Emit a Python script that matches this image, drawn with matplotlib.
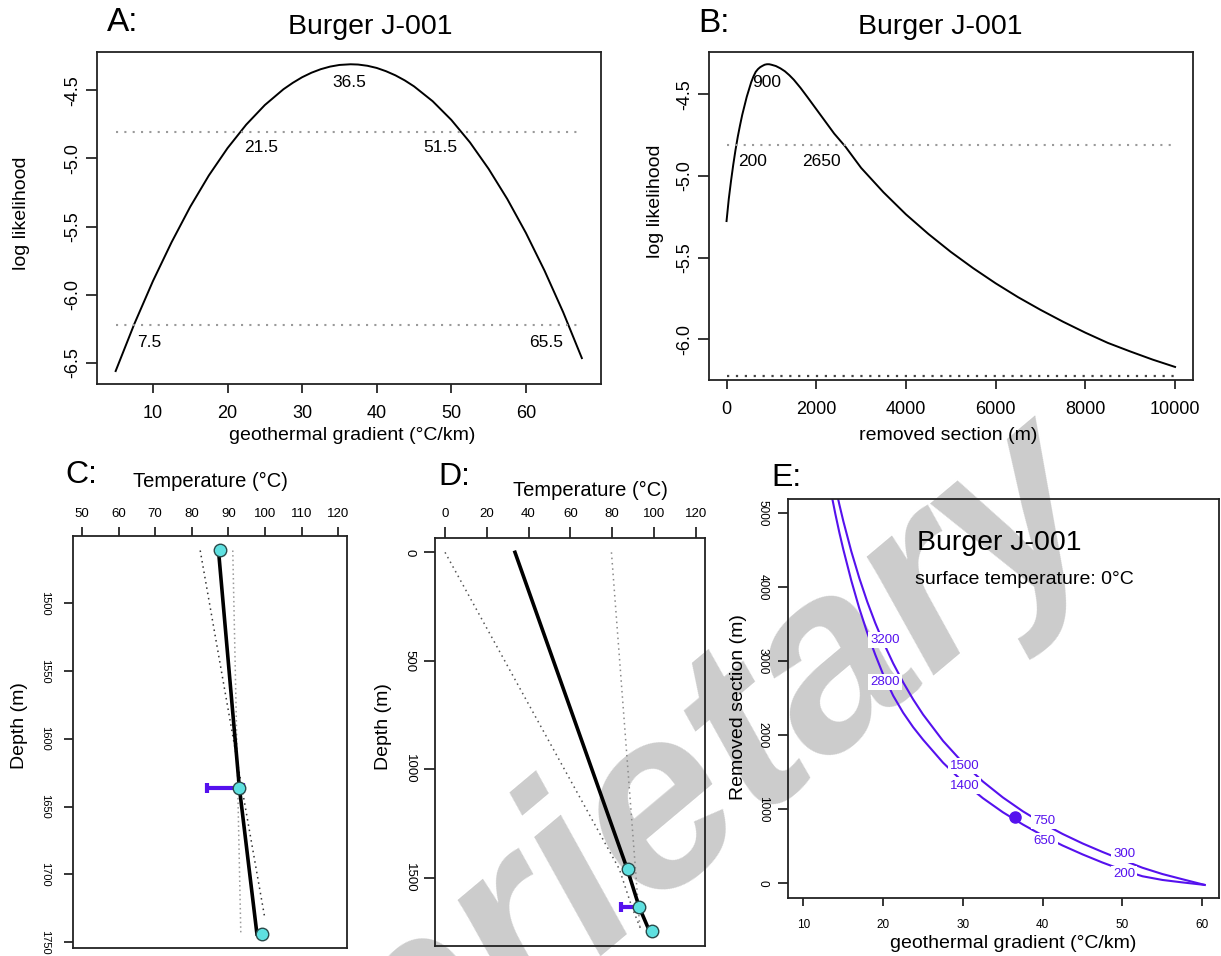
import matplotlib

matplotlib.use("Agg")
import matplotlib.pyplot as plt

plt.rcParams["font.family"] = ["Liberation Sans", "DejaVu Sans"]
plt.rcParams["axes.unicode_minus"] = False

W, H = 1221, 956
PURPLE = "#5511ee"
CYAN = "#5ee0e0"

# A: profile log likelihood over geothermal gradient
grad_a = [5, 7.5, 10, 12.5, 15, 17.5, 20, 22.5, 25, 27.5, 28.75, 30, 31.25, 32.5,
          33.75, 35, 36.5, 37.5, 38.75, 40, 41.25, 42.5, 43.75, 45, 47.5, 50, 52.5,
          55, 57.5, 60, 62.5, 65, 67.5]
loglik_a = [-6.56, -6.215, -5.90, -5.615, -5.355, -5.125, -4.925, -4.753, -4.609,
            -4.493, -4.446, -4.405, -4.372, -4.346, -4.327, -4.315, -4.310, -4.312,
            -4.321, -4.337, -4.361, -4.391, -4.428, -4.472, -4.581, -4.718, -4.883,
            -5.077, -5.298, -5.547, -5.824, -6.129, -6.465]
best_grad = 36.5
ci1_grad = [21.5, 51.5]
ci2_grad = [7.5, 65.5]

# B: profile log likelihood over removed section
removed_b = [0, 50, 100, 150, 200, 250, 300, 350, 400, 450, 500, 550, 600, 650, 700,
             750, 800, 850, 900, 950, 1000, 1100, 1200, 1300, 1400, 1500, 1650, 1800,
             2000, 2200, 2400, 2650, 3000, 3500, 4000, 4500, 5000, 5500, 6000, 6500,
             7000, 7500, 8000, 8500, 9000, 9500, 10000]
loglik_b = [-5.276, -5.14, -5.03, -4.93, -4.84, -4.76, -4.69, -4.625, -4.57, -4.515,
            -4.47, -4.425, -4.39, -4.362, -4.345, -4.333, -4.325, -4.318, -4.315,
            -4.315, -4.318, -4.326, -4.34, -4.358, -4.382, -4.41, -4.46, -4.515,
            -4.59, -4.665, -4.74, -4.82, -4.95, -5.10, -5.235, -5.355, -5.465, -5.565,
            -5.6575, -5.7425, -5.82, -5.8925, -5.96, -6.0225, -6.075, -6.125, -6.17]
best_removed = 900
ci1_removed = [200, 2650]

lvl_1s = -4.81
lvl_95 = -6.225

# C / D: temperature profile
obs_depth = [1461, 1636, 1744]
obs_temp = [87.8, 92.9, 99.3]
err_depth = 1636
err_temp = [84.1, 94.0]
model_depth = [0, 1461, 1636, 1744]
model_temp = [33.5, 87.3, 93.0, 97.8]
low_depth = [0, 1461, 1744]
low_temp = [79.7, 91.2, 93.4]
c_high_depth = [1461, 1733]
c_high_temp = [82.3, 100.0]
d_high_depth = [0, 1461, 1636, 1744]
d_high_temp = [0, 83.5, 89.5, 94.0]

# E: removed section vs gradient contour
outer_g = [14.0, 14.5, 15.0, 16.0, 17.0, 18.0, 19.0, 20.0, 21.25, 22.5, 23.75, 25.0,
           27.5, 30.0, 32.5, 35.0, 37.5, 40.0, 42.5, 45.0, 47.5, 50.0, 52.5, 55.0,
           57.5, 60.3]
outer_r = [5360, 5119, 4893, 4485, 4125, 3804, 3518, 3260, 2972, 2716, 2486, 2280,
           1924, 1627, 1375, 1160, 973, 810, 666, 538, 423, 315, 210, 125, 55, -22]
inner_g = [13.5, 14.0, 14.5, 15.0, 16.0, 17.0, 18.0, 19.0, 20.0, 21.25, 22.5, 23.75,
           25.0, 27.5, 30.0, 32.5, 35.0, 37.5, 40.0, 42.5, 45.0, 47.5, 50.0, 52.5,
           55.0, 57.5, 60.3]
inner_r = [5260, 4990, 4740, 4510, 4090, 3715, 3385, 3090, 2820, 2535, 2305, 2110,
           1940, 1630, 1370, 1150, 960, 795, 645, 510, 390, 280, 180, 95, 45, 12, -22]
label_g = [20, 30, 40, 50]
outer_labels = [3200, 1500, 750, 300]
inner_labels = [2800, 1400, 650, 200]


def rect(l, t, r, b):
    return [l / W, 1 - b / H, (r - l) / W, (b - t) / H]


def ftext(x, y, s, **kw):
    fig.text(x / W, 1 - y / H, s, **kw)


def box(ax):
    ax.set_facecolor("none")
    for sp in ax.spines.values():
        sp.set_linewidth(1.3)
        sp.set_color("#222222")


fig = plt.figure(figsize=(W / 100, H / 100), dpi=100)

dot_gray = dict(color="#9a9a9a", lw=1.5, linestyle=(0, (1, 3)))
lab = dict(fontsize=12.5, ha="center", va="center", textcoords="offset points")

# ---- A
ax = fig.add_axes(rect(97, 52, 600.5, 384))
box(ax)
ax.plot(grad_a, loglik_a, color="black", lw=1.4)
ax.plot([grad_a[0], grad_a[-1]], [lvl_1s, lvl_1s], **dot_gray)
ax.plot([grad_a[0], grad_a[-1]], [lvl_95, lvl_95], **dot_gray)
ax.set_xlim(2.5, 70)
ax.set_ylim(-6.655, -4.22)
ax.set_xticks([10, 20, 30, 40, 50, 60])
yt = [-6.5, -6.0, -5.5, -5.0, -4.5]
ax.set_yticks(yt, labels=[f"{v:.1f}" for v in yt], rotation=90, va="center")
ax.tick_params(axis="x", labelsize=13, length=6.5, width=1.1, pad=8.5)
ax.tick_params(axis="y", labelsize=13, length=8, width=1.1, pad=3)
ax.annotate(f"{best_grad}", (best_grad, max(loglik_a)), xytext=(-1, -13), **lab)
ax.annotate(f"{ci1_grad[0]}", (ci1_grad[0], lvl_1s), xytext=(16, -11), **lab)
ax.annotate(f"{ci1_grad[1]}", (ci1_grad[1], lvl_1s), xytext=(-16, -11), **lab)
ax.annotate(f"{ci2_grad[0]}", (ci2_grad[0], lvl_95), xytext=(11, -12), **lab)
ax.annotate(f"{ci2_grad[1]}", (ci2_grad[1], lvl_95), xytext=(-15, -12), **lab)
ftext(352, 435, "geothermal gradient (°C/km)", fontsize=14, ha="center", va="center")
ftext(21.5, 213, "log likelihood", fontsize=14, ha="center", va="center", rotation=90)
ftext(370, 26.7, "Burger J-001", fontsize=20.5, ha="center", va="center")
ftext(106.5, 22.5, "A:", fontsize=24, ha="left", va="center")

# ---- B
ax = fig.add_axes(rect(708.6, 52, 1193, 380))
box(ax)
ax.plot(removed_b, loglik_b, color="black", lw=1.4)
ax.plot([removed_b[0], removed_b[-1]], [lvl_1s, lvl_1s], **dot_gray)
ax.plot([removed_b[0], removed_b[-1]], [lvl_95, lvl_95], color="#444444", lw=1.6,
        linestyle=(0, (1, 3)))
ax.set_xlim(-400, 10400)
ax.set_ylim(-6.25, -4.24)
ax.set_xticks([0, 2000, 4000, 6000, 8000, 10000])
yt = [-6.0, -5.5, -5.0, -4.5]
ax.set_yticks(yt, labels=[f"{v:.1f}" for v in yt], rotation=90, va="center")
ax.tick_params(axis="x", labelsize=13, length=6.5, width=1.1, pad=8.5)
ax.tick_params(axis="y", labelsize=13, length=8, width=1.1, pad=3)
ax.annotate(f"{best_removed}", (best_removed, max(loglik_b)), xytext=(0, -13), **lab)
ax.annotate(f"{ci1_removed[0]}", (ci1_removed[0], lvl_1s), xytext=(12, -12), **lab)
ax.annotate(f"{ci1_removed[1]}", (ci1_removed[1], lvl_1s), xytext=(-17, -12), **lab)
ftext(948.4, 435, "removed section (m)", fontsize=14, ha="center", va="center")
ftext(655, 201.7, "log likelihood", fontsize=14, ha="center", va="center", rotation=90)
ftext(940.6, 26.7, "Burger J-001", fontsize=20.5, ha="center", va="center")
ftext(698.5, 24, "B:", fontsize=24, ha="left", va="center")


def profile(ax):
    ax.errorbar([sum(err_temp) / 2], [err_depth], xerr=[(err_temp[1] - err_temp[0]) / 2],
                fmt="none", ecolor=PURPLE, elinewidth=3, capsize=3.5, capthick=3, zorder=3)
    ax.plot(obs_temp, obs_depth, "o", ms=9, mfc=CYAN, mec="#2a4a4a", mew=1, zorder=4)
    ax.xaxis.tick_top()
    ax.tick_params(axis="x", labelsize=9.5, length=6.5, width=1.1, pad=5)


# ---- C
ax = fig.add_axes(rect(73.2, 536, 346.6, 948))
box(ax)
ax.plot(low_temp[1:], low_depth[1:], color="#9a9a9a", lw=1.1, linestyle=(0, (1, 2)))
ax.plot(c_high_temp, c_high_depth, color="#333333", lw=1.1, linestyle=(0, (1, 2.5)))
ax.plot(model_temp[1:], model_depth[1:], color="black", lw=2.6, zorder=2)
profile(ax)
ax.set_xlim(47.6, 122.3)
ax.set_ylim(1754.4, 1450.3)
ax.set_xticks(range(50, 121, 10))
yt = [1500, 1550, 1600, 1650, 1700, 1750]
ax.set_yticks(yt, labels=[str(v) for v in yt], rotation=-90, va="center")
ax.tick_params(axis="y", labelsize=8, length=6.5, width=1.1, pad=10)
ftext(210.7, 481.7, "Temperature (°C)", fontsize=14.5, ha="center", va="center")
ftext(20, 725.5, "Depth (m)", fontsize=14, ha="center", va="center", rotation=90)
ftext(65, 475, "C:", fontsize=23, ha="left", va="center")

# ---- D
ax = fig.add_axes(rect(435, 538, 705, 946))
box(ax)
ax.plot(d_high_temp, d_high_depth, color="#555555", lw=1.1, linestyle=(0, (1, 2.5)))
ax.plot(low_temp, low_depth, color="#8a8a8a", lw=1.1, linestyle=(0, (1, 2.5)))
ax.plot(model_temp, model_depth, color="black", lw=2.6, zorder=2)
profile(ax)
ax.set_xlim(-4.8, 124.5)
ax.set_ylim(1815, -66)
ax.set_xticks(range(0, 121, 20))
ax.tick_params(axis="x", length=8)
yt = [0, 500, 1000, 1500]
ax.set_yticks(yt, labels=[str(v) for v in yt], rotation=-90, va="center")
ax.tick_params(axis="y", labelsize=9.5, length=8, width=1.1, pad=6)
ftext(590.8, 490, "Temperature (°C)", fontsize=14.5, ha="center", va="center")
ftext(383, 727, "Depth (m)", fontsize=14, ha="center", va="center", rotation=90)
ftext(438, 476.7, "D:", fontsize=23, ha="left", va="center")

# ---- E
ax = fig.add_axes(rect(788.3, 499, 1219, 898.3))
box(ax)
ax.plot(outer_g, outer_r, color=PURPLE, lw=1.5)
ax.plot(inner_g, inner_r, color=PURPLE, lw=1.5)
ax.plot([best_grad], [best_removed], "o", color=PURPLE, ms=8)
lbox = dict(facecolor="white", edgecolor="none", pad=1.5)
for g, vo, vi in zip(label_g, outer_labels, inner_labels):
    ax.text(g + 0.2, vo + 90, str(vo), color=PURPLE, fontsize=9.5, ha="center",
            va="center", bbox=lbox, zorder=5)
    ax.text(g + 0.2, vi - 80, str(vi), color=PURPLE, fontsize=9.5, ha="center",
            va="center", bbox=lbox, zorder=5)
ax.text(24.2, 4600, "Burger J-001", fontsize=20.5, ha="left", va="center")
ax.text(24.0, 4100, "surface temperature: 0°C", fontsize=14, ha="left", va="center")
ax.set_xlim(8.1, 62.1)
ax.set_ylim(-203, 5193)
ax.set_xticks(range(10, 61, 10))
yt = [0, 1000, 2000, 3000, 4000, 5000]
ax.set_yticks(yt, labels=[str(v) for v in yt], rotation=-90, va="center")
ax.tick_params(axis="x", labelsize=8.5, length=6, width=1.1, pad=9)
ax.tick_params(axis="y", labelsize=8.5, length=7, width=1.1, pad=7)
ftext(1013.3, 943.3, "geothermal gradient (°C/km)", fontsize=14, ha="center", va="center")
ftext(738.3, 706.7, "Removed section (m)", fontsize=14, ha="center", va="center",
      rotation=90)
ftext(771, 478.3, "E:", fontsize=23, ha="left", va="center")

# watermark behind everything
ftext(555, 905, "Proprietary", fontsize=182, fontweight="bold", fontstyle="italic",
      color="#cccccc", ha="center", va="center", rotation=40, zorder=-1)

fig.savefig("out.png", dpi=100)
